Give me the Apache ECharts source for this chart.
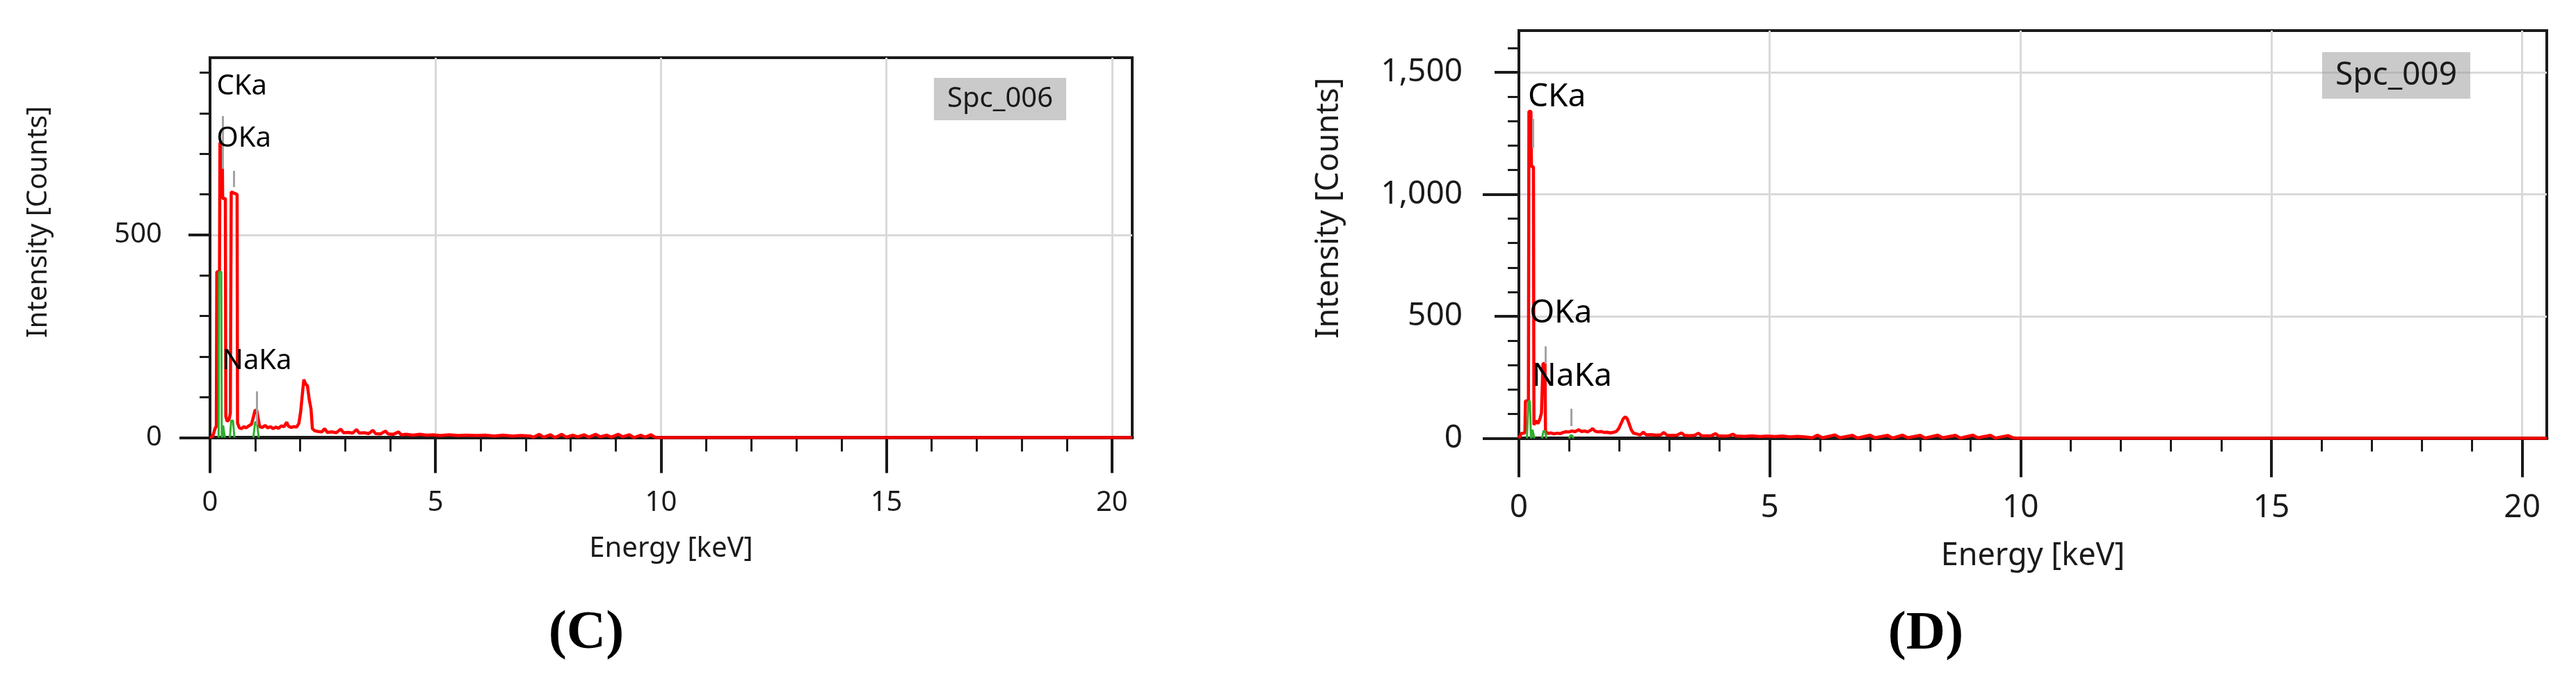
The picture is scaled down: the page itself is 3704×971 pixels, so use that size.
<!DOCTYPE html>
<html><head><meta charset="utf-8">
<script src="https://cdn.jsdelivr.net/npm/echarts@6/dist/echarts.min.js"></script>
<style>html,body{margin:0;padding:0;background:#fff}#c{width:3704px;height:971px}</style>
</head><body><div id="c"></div>
<script>
// ---------- data ----------
const xTicks = [0, 5, 10, 15, 20];
const yTicksC = [0, 500];
const yLongTicksC = [0];
const yTicksD = [0, 500, 1000, 1500];
const yLongTicksD = [0, 1000];

const xMaxC = 20.45, yMaxC = 937;
const xMaxD = 20.49, yMaxD = 1671;

// Spc_006 spectrum (energy keV, counts)
const spectrumC = [
 [0,0],[0.06,3],[0.11,22],[0.14,28],[0.15,409],[0.21,409],[0.22,727],[0.27,727],[0.28,590],[0.34,590],
 [0.35,52],[0.38,40],[0.42,44],[0.45,60],[0.47,606],[0.60,600],[0.61,36],[0.65,24],[0.70,22],[0.75,27],
 [0.80,24],[0.86,29],[0.92,33],[0.96,50],[1.00,68],[1.04,66],[1.07,45],[1.10,27],[1.16,25],[1.22,30],
 [1.28,24],[1.34,27],[1.40,22],[1.46,26],[1.52,23],[1.58,29],[1.64,27],[1.70,38],[1.74,28],[1.80,25],
 [1.86,27],[1.92,26],[1.97,35],[2.01,64],[2.05,110],[2.08,143],[2.12,132],[2.16,128],[2.20,94],[2.24,70],
 [2.27,22],[2.32,17],[2.40,15],[2.48,14],[2.54,22],[2.60,13],[2.70,14],[2.80,12],[2.90,21],[2.96,12],
 [3.06,13],[3.16,11],[3.25,20],[3.31,11],[3.42,12],[3.52,10],[3.61,18],[3.67,10],[3.78,9],[3.89,16],
 [3.95,9],[4.06,8],[4.18,14],[4.24,7],[4.35,8],[4.5,6],[4.65,8],[4.8,6],[4.95,7],[5.1,5],[5.3,7],[5.5,5],
 [5.7,6],[5.9,5],[6.1,6],[6.3,4],[6.5,6],[6.7,4],[6.9,5],[7.1,4],[7.17,1],[7.3,8],[7.4,1],[7.55,7],[7.65,0],
 [7.8,8],[7.9,1],[8.05,6],[8.15,2],[8.3,7],[8.4,1],[8.55,8],[8.65,2],[8.8,6],[8.9,1],[9.05,8],[9.15,2],
 [9.3,7],[9.4,0],[9.55,6],[9.65,1],[9.78,7],[9.88,0],[20.45,0]
];
const fitC = [
 [0.19,0],[0.20,409],[0.25,409],[0.26,0],[0.265,null],
 [0.27,0],[0.29,30],[0.31,30],[0.33,0],[0.38,null],
 [0.44,0],[0.47,42],[0.51,42],[0.54,0],[0.7,null],
 [0.96,0],[1.00,38],[1.04,38],[1.08,0]
];
const peaksC = [['CKa',0.146,865],['OKa',0.146,737],['NaKa',0.27,188]];
const markersC = [[0.277,663,793],[0.525,618,658],[1.041,32,114]];

// Spc_009 spectrum (energy keV, counts)
const spectrumD = [
 [0,0],[0.05,20],[0.12,22],[0.13,153],[0.19,153],[0.20,1340],[0.24,1340],[0.25,1113],[0.29,1113],[0.30,55],
 [0.34,72],[0.38,60],[0.42,80],[0.45,104],[0.47,104],[0.48,306],[0.52,306],[0.53,28],[0.58,20],[0.64,22],
 [0.70,18],[0.76,21],[0.82,19],[0.88,24],[0.94,27],[1.00,26],[1.06,30],[1.12,27],[1.19,35],[1.25,28],
 [1.31,30],[1.37,26],[1.43,33],[1.47,40],[1.52,29],[1.58,26],[1.64,28],[1.70,24],[1.76,25],[1.82,22],
 [1.88,24],[1.94,28],[1.99,40],[2.04,62],[2.08,80],[2.12,88],[2.16,80],[2.20,58],[2.24,35],[2.28,22],
 [2.34,18],[2.42,14],[2.48,25],[2.54,14],[2.64,15],[2.74,13],[2.83,14],[2.89,24],[2.95,13],[3.05,12],
 [3.15,13],[3.24,22],[3.30,12],[3.40,11],[3.50,12],[3.58,21],[3.64,11],[3.74,10],[3.84,11],[3.92,19],
 [3.98,10],[4.08,9],[4.18,10],[4.27,17],[4.33,9],[4.5,8],[4.65,10],[4.8,7],[4.95,9],[5.1,7],[5.25,9],
 [5.4,6],[5.55,8],[5.7,6],[5.85,2],[5.95,13],[6.05,2],[6.3,14],[6.4,2],[6.65,12],[6.75,1],[7.0,13],
 [7.1,2],[7.35,12],[7.45,1],[7.65,13],[7.75,2],[8.0,12],[8.1,1],[8.35,13],[8.45,2],[8.7,12],[8.8,1],
 [9.05,13],[9.15,2],[9.4,12],[9.5,1],[9.75,11],[9.85,2],[9.97,0],[20.49,0]
];
const fitD = [
 [0.16,0],[0.19,152],[0.22,152],[0.24,0],[0.245,null],
 [0.25,0],[0.27,35],[0.29,35],[0.31,0],[0.4,null],
 [0.46,0],[0.49,30],[0.52,30],[0.55,0],[0.8,null],
 [1.00,0],[1.03,12],[1.06,12],[1.09,0]
];
const peaksD = [['CKa',0.18,1397],['OKa',0.21,511],['NaKa',0.26,252]];
const markersD = [[0.277,1189,1309],[0.525,306,377],[1.041,50,121]];

// ---------- chart ----------
const FONT = '"Noto Sans", "Open Sans", sans-serif';
const INK = '#1a1a1a';
const GRIDC = '#d9d9d9';

function panel(i, o) {
  const grid = {left:o.left, top:o.top, width:o.width, height:o.height, show:true,
    borderColor:INK, borderWidth:4, backgroundColor:'transparent', containLabel:false};
  const xAxis = {
    gridIndex:i, type:'value', min:0, max:o.xMax, interval:5,
    axisLine:{show:true, onZero:false, lineStyle:{color:INK, width:5}},
    axisTick:{show:true, length:o.xTickLen, customValues:xTicks, lineStyle:{color:INK, width:4}},
    minorTick:{show:true, splitNumber:5, length:o.xMinorLen, lineStyle:{color:INK, width:3}},
    axisLabel:{customValues:xTicks, fontSize:o.fs, fontFamily:FONT, color:INK, margin:o.xLabMargin},
    splitLine:{show:true, lineStyle:{color:GRIDC, width:3}},
    name:'Energy [keV]', nameLocation:'middle', nameGap:o.xNameGap,
    nameTextStyle:{fontSize:o.nameFs, fontFamily:FONT, color:INK}
  };
  const yMain = {
    gridIndex:i, type:'value', position:'left', min:0, max:o.yMax, interval:500,
    axisLine:{show:true, lineStyle:{color:INK, width:4}},
    axisTick:{show:true, length:o.yTickLen, customValues:o.yTicks, lineStyle:{color:INK, width:4}},
    minorTick:{show:true, splitNumber:5, length:o.yMinorLen, lineStyle:{color:INK, width:3}},
    axisLabel:{customValues:o.yTicks, fontSize:o.fs, fontFamily:FONT, color:INK, margin:o.yLabMargin,
      formatter:v => Number(v).toLocaleString('en-US')},
    splitLine:{show:true, lineStyle:{color:GRIDC, width:3}},
    name:'Intensity [Counts]', nameLocation:'middle', nameGap:o.yNameGap, nameRotate:90,
    nameTextStyle:{fontSize:o.nameFs, fontFamily:FONT, color:INK, padding:[0,0,0,o.yNameShift]}
  };
  const yLong = {
    gridIndex:i, type:'value', position:'left', offset:0, min:0, max:o.yMax, interval:500,
    axisLine:{show:false},
    axisTick:{show:true, length:o.yLongLen, customValues:o.yLong, lineStyle:{color:INK, width:4}},
    axisLabel:{show:false}, splitLine:{show:false}, minorTick:{show:false}
  };
  const series = [
    {type:'line', xAxisIndex:i, yAxisIndex:2*i, data:o.spectrum, showSymbol:false, symbol:'none',
     lineStyle:{color:'#ff0000', width:4.5}, z:3, silent:true},
    {type:'line', xAxisIndex:i, yAxisIndex:2*i, data:o.fit, showSymbol:false, symbol:'none',
     connectNulls:false, lineStyle:{color:'#2fae2f', width:3}, z:4, silent:true},
    {type:'scatter', xAxisIndex:i, yAxisIndex:2*i, symbolSize:0, z:5, silent:true,
     itemStyle:{opacity:1, color:'#000'},
     data:o.peaks.map(p => ({name:p[0], value:[p[1], p[2]]})),
     label:{show:true, position:'right', distance:0, formatter:p => p.name, opacity:1,
       fontSize:o.peakFs, fontFamily:FONT, color:'#000', textBorderWidth:0},
     markLine:{silent:true, symbol:['none','none'], animation:false,
       label:{show:false}, lineStyle:{color:'#a3a3a3', width:3, type:'solid', opacity:1},
       data:o.markers.map(m => [{coord:[m[0], m[1]]}, {coord:[m[0], m[2]]}])}
    }
  ];
  return {grid, xAxis, yAxes:[yMain, yLong], series};
}

const pC = panel(0, {left:302, top:83, width:1326, height:546.5, xMax:xMaxC, yMax:yMaxC,
  xTickLen:51, xMinorLen:20, yTickLen:31, yMinorLen:15, yLongLen:44,
  fs:40, nameFs:40, peakFs:40, xLabMargin:74, yLabMargin:69, xNameGap:140, yNameGap:226, yNameShift:74,
  yTicks:yTicksC, yLong:yLongTicksC, spectrum:spectrumC, fit:fitC, peaks:peaksC, markers:markersC});
const pD = panel(1, {left:2184, top:44, width:1478, height:586.5, xMax:xMaxD, yMax:yMaxD,
  xTickLen:56, xMinorLen:19, yTickLen:35, yMinorLen:16, yLongLen:52,
  fs:46, nameFs:45, peakFs:46, xLabMargin:77, yLabMargin:81, xNameGap:147, yNameGap:250, yNameShift:76,
  yTicks:yTicksD, yLong:yLongTicksD, spectrum:spectrumD, fit:fitD, peaks:peaksD, markers:markersD});

const chart = echarts.init(document.getElementById('c'), null, {renderer:'canvas'});
chart.setOption({
  animation:false,
  backgroundColor:'#ffffff',
  grid:[pC.grid, pD.grid],
  xAxis:[pC.xAxis, pD.xAxis],
  yAxis:[...pC.yAxes, ...pD.yAxes],
  series:[...pC.series, ...pD.series],
  graphic:[
    {type:'text', x:1438, y:142.5, z:1, style:{text:'Spc_006', align:'center', verticalAlign:'middle',
      fontSize:40, fontFamily:FONT, fill:INK, lineHeight:41, backgroundColor:'rgba(150,150,150,0.5)', padding:[10,19,10,19]}},
    {type:'text', x:3445.5, y:108.5, z:1, style:{text:'Spc_009', align:'center', verticalAlign:'middle',
      fontSize:46, fontFamily:FONT, fill:INK, lineHeight:47, backgroundColor:'rgba(150,150,150,0.5)', padding:[10,19,10,19]}},
    {type:'text', x:843, y:912, style:{text:'(C)', align:'center', verticalAlign:'middle',
      font:'bold 78px "Liberation Serif", "DejaVu Serif", serif', fill:'#000'}},
    {type:'text', x:2769, y:913, style:{text:'(D)', align:'center', verticalAlign:'middle',
      font:'bold 78px "Liberation Serif", "DejaVu Serif", serif', fill:'#000'}}
  ]
});
</script></body></html>
